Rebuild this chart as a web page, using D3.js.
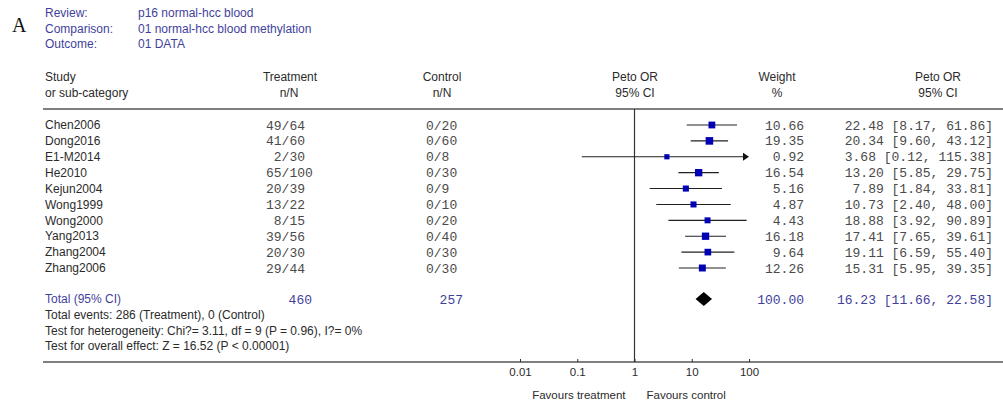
<!DOCTYPE html>
<html>
<head>
<meta charset="utf-8">
<script src="https://cdn.jsdelivr.net/npm/d3@7"></script>
<style>
  html, body { margin: 0; padding: 0; background: #fff; }
  svg { display: block; }
  text { white-space: pre; }
</style>
</head>
<body>
<div id="chart"></div>
<script>
// Forest plot: Peto odds ratios of p16 methylation in blood, HCC vs normal
const studies = ["Chen2006", "Dong2016", "E1-M2014", "He2010", "Kejun2004",
                 "Wong1999", "Wong2000", "Yang2013", "Zhang2004", "Zhang2006"];
const treatEvents = [49, 41, 2, 65, 20, 13, 8, 39, 20, 29];
const treatTotal  = [64, 60, 30, 100, 39, 22, 15, 56, 30, 44];
const ctrlEvents  = [0, 0, 0, 0, 0, 0, 0, 0, 0, 0];
const ctrlTotal   = [20, 60, 8, 30, 9, 10, 20, 40, 30, 30];
const weights     = [10.66, 19.35, 0.92, 16.54, 5.16, 4.87, 4.43, 16.18, 9.64, 12.26];
const orValues    = [22.48, 20.34, 3.68, 13.20, 7.89, 10.73, 18.88, 17.41, 19.11, 15.31];
const ciLow       = [8.17, 9.60, 0.12, 5.85, 1.84, 2.40, 3.92, 7.65, 6.59, 5.95];
const ciHigh      = [61.86, 43.12, 115.38, 29.75, 33.81, 48.00, 90.89, 39.61, 55.40, 39.35];

const totalTreat = 460;
const totalCtrl = 257;
const totalWeight = 100.00;
const pooled = [16.23, 11.66, 22.58];   // OR, lower, upper

const tickValues = [0.01, 0.1, 1, 10, 100];
const tickLabels = ["0.01", "0.1", "1", "10", "100"];

const headerInfo = [
  ["Review:", "p16 normal-hcc blood"],
  ["Comparison:", "01 normal-hcc blood methylation"],
  ["Outcome:", "01 DATA"]
];
const footerLines = [
  "Total events: 286 (Treatment), 0 (Control)",
  "Test for heterogeneity: Chi?= 3.11, df = 9 (P = 0.96), I?= 0%",
  "Test for overall effect: Z = 16.52 (P < 0.00001)"
];

const W = 1003, H = 407;
const SANS = "Arial, 'Liberation Sans', sans-serif";
const MONO = "'Courier New', 'Liberation Mono', monospace";
const DARK = "#2b2b2b";
const MONO_FILL = "#4a4a4a";
const BLUE = "#3f3f9c";
const MARK = "#0000b4";

const svg = d3.select("#chart").append("svg")
  .attr("width", W).attr("height", H)
  .style("background", "#fff");

const x = d3.scaleLog().domain([0.01, 100]).range([520, 749]);
const y = d3.scaleLinear().domain([0, studies.length - 1]).range([125, 268]);

function txt(xp, yp, s, opts = {}) {
  return svg.append("text")
    .attr("x", xp).attr("y", yp).attr("dy", "0.35em")
    .attr("font-family", opts.mono ? MONO : SANS)
    .attr("font-size", opts.size || (opts.mono ? 13 : 12))
    .attr("text-anchor", opts.anchor || "start")
    .attr("fill", opts.fill || (opts.mono ? MONO_FILL : DARK))
    .text(s);
}

// panel letter
svg.append("text").attr("x", 12).attr("y", 32)
  .attr("font-family", "'Liberation Serif', 'Times New Roman', serif")
  .attr("font-size", 20).attr("fill", "#111").text("A");

// review / comparison / outcome block
headerInfo.forEach((d, i) => {
  txt(45, 13 + i * 15.5, d[0], { fill: BLUE });
  txt(138, 13 + i * 15.5, d[1], { fill: BLUE });
});

// column headings
txt(45, 77, "Study");
txt(45, 93, "or sub-category");
txt(290, 77, "Treatment", { anchor: "middle" });
txt(289, 93, "n/N", { anchor: "middle" });
txt(442, 77, "Control", { anchor: "middle" });
txt(442, 93, "n/N", { anchor: "middle" });
txt(635, 77, "Peto OR", { anchor: "middle" });
txt(635, 93, "95% CI", { anchor: "middle" });
txt(777, 77, "Weight", { anchor: "middle" });
txt(777, 93, "%", { anchor: "middle" });
txt(938, 77, "Peto OR", { anchor: "middle" });
txt(938, 93, "95% CI", { anchor: "middle" });

// rules
svg.append("line").attr("x1", 43).attr("x2", W).attr("y1", 109).attr("y2", 109)
  .attr("stroke", "#555").attr("stroke-width", 1.5);
svg.append("line").attr("x1", 43).attr("x2", W).attr("y1", 362).attr("y2", 362)
  .attr("stroke", "#555").attr("stroke-width", 1.5);
svg.append("line").attr("x1", x(1)).attr("x2", x(1)).attr("y1", 109).attr("y2", 362)
  .attr("stroke", "#333").attr("stroke-width", 1.2);

// study rows: text columns
studies.forEach((s, i) => {
  const yy = y(i);
  txt(45, yy, s);
  txt(266, yy, String(treatEvents[i]).padStart(2, " ") + "/" + treatTotal[i], { mono: true });
  txt(426, yy, ctrlEvents[i] + "/" + ctrlTotal[i], { mono: true });
  txt(804, yy, weights[i].toFixed(2), { mono: true, anchor: "end" });
  txt(993, yy, orValues[i].toFixed(2) + " [" + ciLow[i].toFixed(2) + ", " + ciHigh[i].toFixed(2) + "]",
      { mono: true, anchor: "end" });
});

// confidence interval lines
const maxX = x.domain()[1];
const rows = svg.append("g");
rows.selectAll("line.ci").data(studies).join("line")
  .attr("class", "ci")
  .attr("x1", (d, i) => x(Math.max(ciLow[i], x.domain()[0])))
  .attr("x2", (d, i) => ciHigh[i] > maxX ? x(maxX) - 5 : x(ciHigh[i]))
  .attr("y1", (d, i) => y(i)).attr("y2", (d, i) => y(i))
  .attr("stroke", "#222").attr("stroke-width", 1.1);

// arrow heads for intervals running off the scale
rows.selectAll("path.arrow").data(studies.filter((d, i) => ciHigh[i] > maxX)).join("path")
  .attr("class", "arrow")
  .attr("d", d => {
    const i = studies.indexOf(d), xe = x(maxX), yy = y(i);
    return `M${xe},${yy} L${xe - 6},${yy - 4} L${xe - 6},${yy + 4} Z`;
  })
  .attr("fill", "#111");

// weighted squares
const side = w => 4.5 + Math.sqrt(w) * 0.7;
rows.selectAll("rect.pt").data(studies).join("rect")
  .attr("class", "pt")
  .attr("x", (d, i) => x(orValues[i]) - side(weights[i]) / 2)
  .attr("y", (d, i) => y(i) - side(weights[i]) / 2)
  .attr("width", (d, i) => side(weights[i]))
  .attr("height", (d, i) => side(weights[i]))
  .attr("fill", MARK);

// pooled estimate
const yT = 299;
txt(45, yT, "Total (95% CI)", { fill: BLUE });
txt(312, yT, String(totalTreat), { mono: true, anchor: "end", fill: BLUE });
txt(463, yT, String(totalCtrl), { mono: true, anchor: "end", fill: BLUE });
txt(804, yT, totalWeight.toFixed(2), { mono: true, anchor: "end", fill: BLUE });
txt(993, yT, pooled[0].toFixed(2) + " [" + pooled[1].toFixed(2) + ", " + pooled[2].toFixed(2) + "]",
    { mono: true, anchor: "end", fill: BLUE });
svg.append("path")
  .attr("d", `M${x(pooled[1])},${yT} L${x(pooled[0])},${yT - 7} L${x(pooled[2])},${yT} L${x(pooled[0])},${yT + 7} Z`)
  .attr("fill", "#000");

// heterogeneity and overall effect notes
footerLines.forEach((s, i) => txt(45, 315 + i * 15.5, s));

// log axis
const axis = d3.axisBottom(x)
  .tickValues(tickValues)
  .tickFormat((d, i) => tickLabels[i])
  .tickSize(-3)
  .tickPadding(6);
const gAxis = svg.append("g").attr("transform", "translate(0,362)").call(axis);
gAxis.select(".domain").remove();
gAxis.selectAll(".tick line").attr("stroke", "#333");
gAxis.selectAll(".tick text")
  .attr("font-family", SANS).attr("font-size", 11.5).attr("fill", DARK);

txt(x(1) - 9, 395, "Favours treatment", { anchor: "end", size: 11.5 });
txt(x(1) + 12, 395, "Favours control", { size: 11.5 });
</script>
</body>
</html>
